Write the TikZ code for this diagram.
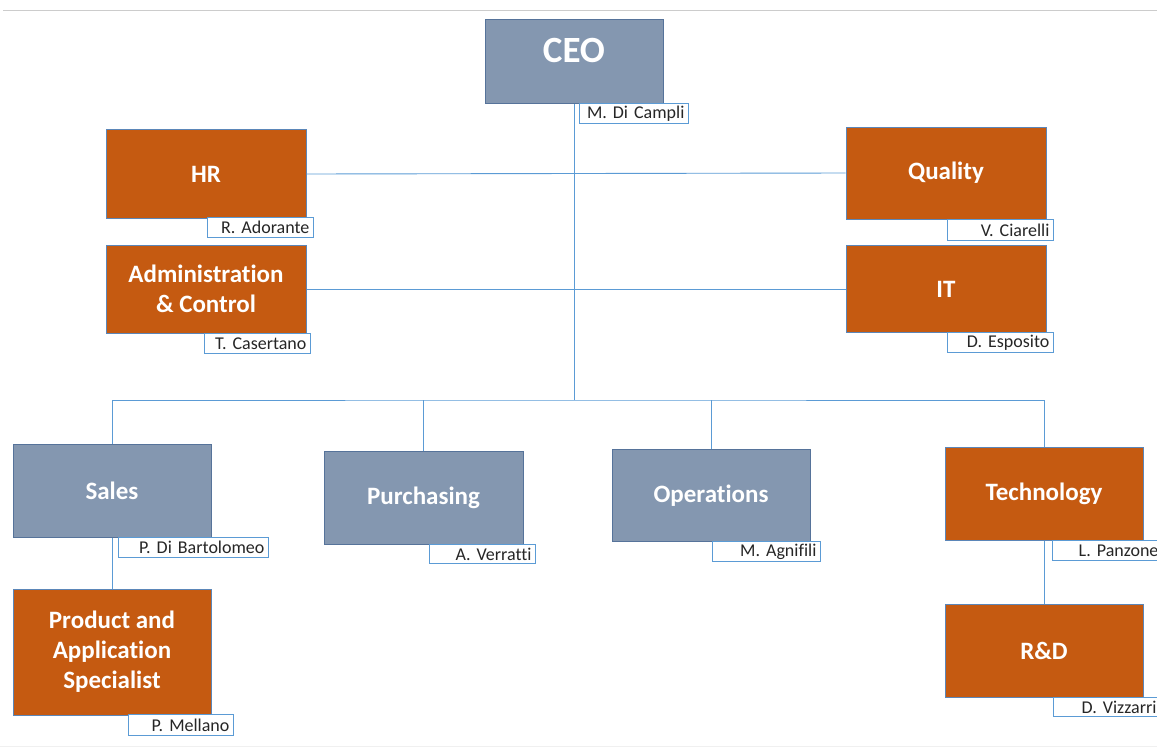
\documentclass[tikz,border=0pt]{standalone}
\usepackage{fontspec}
\setmainfont{Carlito}[Ligatures=NoCommon]
\definecolor{orangebox}{HTML}{C55A11}
\definecolor{graybox}{HTML}{8497B0}
\definecolor{grayedge}{HTML}{56739A}
\definecolor{orangeedge}{HTML}{5B86B8}
\definecolor{linkblue}{HTML}{5B9BD5}
\definecolor{nametext}{HTML}{262626}
\tikzset{
  unit/.style={rectangle, inner sep=0pt, line width=1pt, text=white,
    font=\bfseries\fontsize{25}{30}\selectfont, align=center},
  obox/.style={unit, fill=orangebox, draw=orangeedge},
  gbox/.style={unit, fill=graybox, draw=grayedge},
  lab/.style={rectangle, draw=linkblue, fill=white, line width=0.9pt, anchor=north west,
    inner xsep=4pt, inner ysep=0pt, align=right, text=nametext,
    font=\fontsize{18}{19}\selectfont},
  link/.style={draw=linkblue, line width=0.9pt},
}
\begin{document}
\begin{tikzpicture}[x=1pt,y=-1pt]
\useasboundingbox (0,0) rectangle (1157,753);
% screenshot edges
\draw[gray!40, line width=1pt] (3,10) -- (1157,10);
\draw[gray!12, line width=0.8pt] (0,746) -- (1157,746);

% boxes
\node[gbox, minimum width=178pt, minimum height=84pt, font=\bfseries\fontsize{37}{40}\selectfont, anchor=north] (ceo) at (574,19) {\raisebox{22pt}{CEO}};
\node[obox, minimum width=200pt, minimum height=89pt] (hr) at (206,174) {HR};
\node[obox, minimum width=200pt, minimum height=88pt] (adm) at (206,289) {Administration\\\& Control};
\node[obox, minimum width=200pt, minimum height=92pt] (qual) at (946,173) {Quality};
\node[obox, minimum width=200pt, minimum height=87pt] (it) at (946,289) {IT};
\node[gbox, minimum width=198pt, minimum height=93pt] (sales) at (112,491) {Sales};
\node[gbox, minimum width=199pt, minimum height=93pt] (purch) at (423.5,497.5) {Purchasing};
\node[gbox, minimum width=198pt, minimum height=92pt] (ops) at (711,495.5) {Operations};
\node[obox, minimum width=198pt, minimum height=93pt] (tech) at (1044,494) {Technology};
\node[obox, minimum width=198pt, minimum height=126pt] (pas) at (112,652) {Product and\\Application\\Specialist};
\node[obox, minimum width=198pt, minimum height=93pt] (rd) at (1044,651) {R\&D};

% connectors
\coordinate (bus) at (573,400);
\draw[link] (ceo.south) -- (ceo.south |- bus);
\draw[link] (hr.east) -- (qual.west);
\draw[link] (adm.east) -- (it.west);
\draw[link] (sales.north) |- (bus) -| (tech.north);
\draw[link] (purch.north) -- (purch.north |- bus);
\draw[link] (ops.north) -- (ops.north |- bus);
\draw[link] (sales.south) -- (pas.north);
\draw[link] (tech.south) -- (rd.north);

% name labels
\node[lab, text width=101pt, minimum height=20pt] (nceo) at (579,103) {M. Di Campli};
\node[lab, text width=98pt, minimum height=20pt] (nhr) at (207,217) {R. Adorante};
\node[lab, text width=98pt, minimum height=20pt] (nadm) at (204,333) {T. Casertano};
\node[lab, text width=98pt, minimum height=21pt] (nqual) at (947,219) {V. Ciarelli};
\node[lab, text width=98pt, minimum height=20pt] (nit) at (947,332) {D. Esposito};
\node[lab, text width=142pt, minimum height=20pt] (nsales) at (118,537) {P. Di Bartolomeo};
\node[lab, text width=98pt, minimum height=19pt] (npurch) at (429,544) {A. Verratti};
\node[lab, text width=100pt, minimum height=20pt] (nops) at (712,541) {M. Agnifili};
\node[lab, text width=102pt, minimum height=20pt] (ntech) at (1052,540) {L. Panzone};
\node[lab, text width=97pt, minimum height=21pt] (npas) at (128,714) {P. Mellano};
\node[lab, text width=99pt, minimum height=19pt] (nrd) at (1053,697) {D. Vizzarri};
\end{tikzpicture}
\end{document}
